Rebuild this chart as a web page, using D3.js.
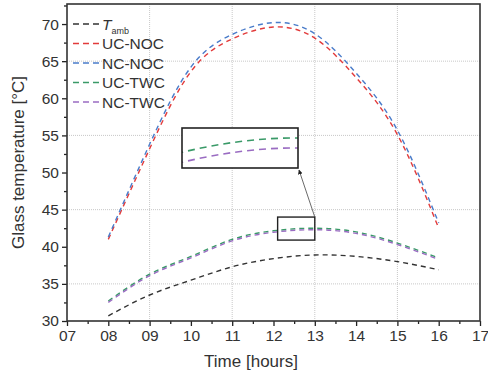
<!DOCTYPE html>
<html>
<head>
<meta charset="utf-8">
<script src="https://cdn.jsdelivr.net/npm/d3@7"></script>
<style>
  body { margin: 0; background: #fff; }
  text { font-family: "Liberation Sans", Arial, sans-serif; fill: #333; }
</style>
</head>
<body>
<div id="chart"></div>
<script>
// data
const hours = [8, 9, 10, 11, 12, 13, 14, 15, 16];
const tAmb = [30.7, 33.5, 35.5, 37.3, 38.4, 38.9, 38.7, 38.0, 36.9];
const ucNoc = [41.0, 53.2, 63.6, 68.0, 69.6, 68.1, 62.8, 55.1, 42.5];
const ncNoc = [41.3, 53.8, 64.2, 68.6, 70.2, 68.7, 63.4, 55.7, 43.2];
const ucTwc = [32.7, 36.3, 38.7, 41.0, 42.15, 42.5, 42.0, 40.5, 38.5];
const ncTwc = [32.5, 36.1, 38.5, 40.8, 41.95, 42.3, 41.8, 40.3, 38.3];

const seriesNames = ['T_amb', 'UC-NOC', 'NC-NOC', 'UC-TWC', 'NC-TWC'];
const seriesColors = ['#333333', '#e23b3b', '#4a7cca', '#3a9a68', '#9a6cc2'];
const seriesValues = [tAmb, ucNoc, ncNoc, ucTwc, ncTwc];

const xTicks = [7, 8, 9, 10, 11, 12, 13, 14, 15, 16, 17];
const yTicks = [30, 35, 40, 45, 50, 55, 60, 65, 70];
const xGrid = [9, 11, 13, 15];
const yGrid = [35, 45, 55, 65];

// zoom window (small box) and the y range shown in the big box
const zoomX = [12.1, 13.0];
const zoomY = [40.9, 44.0];
const insetY = [41.9, 42.7];

const width = 488, height = 374;
const margin = { top: 4, left: 67, right: 8, bottom: 53 };

const x = d3.scaleLinear().domain([7, 17]).range([margin.left, width - margin.right]);
const y = d3.scaleLinear().domain([30, 72.7]).range([height - margin.bottom, margin.top]);

const svg = d3.select('#chart')
    .append('svg')
    .attr('width', width)
    .attr('height', height);

// grid
svg.append('g')
    .selectAll('line')
    .data(xGrid)
    .enter()
    .append('line')
    .attr('x1', d => x(d)).attr('x2', d => x(d))
    .attr('y1', y.range()[1]).attr('y2', y.range()[0])
    .attr('stroke', '#c8c8c8')
    .attr('stroke-dasharray', '1,1');

svg.append('g')
    .selectAll('line')
    .data(yGrid)
    .enter()
    .append('line')
    .attr('x1', x.range()[0]).attr('x2', x.range()[1])
    .attr('y1', d => y(d)).attr('y2', d => y(d))
    .attr('stroke', '#c8c8c8')
    .attr('stroke-dasharray', '1,1');

// axes
let xAxis = d3.axisBottom(x)
    .tickValues(xTicks)
    .tickSize(5)
    .tickPadding(4)
    .tickFormat(d => d3.format('02d')(d));

let xMinor = d3.axisBottom(x)
    .tickValues(d3.range(7.5, 17, 1))
    .tickSize(3)
    .tickFormat('');

let yAxis = d3.axisLeft(y)
    .tickValues(yTicks)
    .tickSize(5)
    .tickPadding(3);

let yMinor = d3.axisLeft(y)
    .tickValues(d3.range(32.5, 72.6, 5))
    .tickSize(3)
    .tickFormat('');

function styleAxis(g) {
    g.select('.domain').remove();
    g.selectAll('line').attr('stroke', '#222').attr('stroke-width', 1.3);
    g.selectAll('text')
        .style('font-size', '15.5px')
        .attr('fill', '#333');
}

svg.append('g')
    .attr('transform', `translate(0, ${y.range()[0]})`)
    .call(xAxis)
    .call(styleAxis);

svg.append('g')
    .attr('transform', `translate(0, ${y.range()[0]})`)
    .call(xMinor)
    .call(styleAxis);

svg.append('g')
    .attr('transform', `translate(${x.range()[0]}, 0)`)
    .call(yAxis)
    .call(styleAxis);

svg.append('g')
    .attr('transform', `translate(${x.range()[0]}, 0)`)
    .call(yMinor)
    .call(styleAxis);

// frame
svg.append('rect')
    .attr('x', x.range()[0])
    .attr('y', y.range()[1])
    .attr('width', x.range()[1] - x.range()[0])
    .attr('height', y.range()[0] - y.range()[1])
    .attr('fill', 'none')
    .attr('stroke', '#333')
    .attr('stroke-width', 1.6);

// axis titles
svg.append('text')
    .text('Time [hours]')
    .attr('x', 251)
    .attr('y', 367)
    .attr('text-anchor', 'middle')
    .style('font-size', '17px');

svg.append('text')
    .text('Glass temperature [°C]')
    .attr('transform', `translate(24, ${(y.range()[0] + y.range()[1]) / 2}) rotate(-90)`)
    .attr('text-anchor', 'middle')
    .style('font-size', '17px');

// curves (natural spline, same shape in the inset)
let curve = d3.curveNatural;

let line = d3.line()
    .x((d, i) => x(hours[i]))
    .y(d => y(d))
    .curve(curve);

svg.append('g')
    .selectAll('path')
    .data([ucTwc, ncTwc, tAmb, ucNoc, ncNoc])
    .enter()
    .append('path')
    .attr('d', d => line(d))
    .attr('fill', 'none')
    .attr('stroke', d => seriesColors[seriesValues.indexOf(d)])
    .attr('stroke-width', 1.4)
    .attr('stroke-dasharray', '5,4');

// small box around the zoomed part
svg.append('rect')
    .attr('x', x(zoomX[0]))
    .attr('y', y(zoomY[1]))
    .attr('width', x(zoomX[1]) - x(zoomX[0]))
    .attr('height', y(zoomY[0]) - y(zoomY[1]))
    .attr('fill', 'none')
    .attr('stroke', '#222')
    .attr('stroke-width', 1.4);

// inset
const inset = { x0: 182, x1: 298, y0: 128, y1: 168 };
let ix = d3.scaleLinear().domain(zoomX).range([inset.x0, inset.x1]);
let iy = d3.scaleLinear().domain(insetY).range([inset.y1, inset.y0]);

svg.append('defs')
    .append('clipPath')
    .attr('id', 'insetClip')
    .append('rect')
    .attr('x', inset.x0)
    .attr('y', inset.y0)
    .attr('width', inset.x1 - inset.x0)
    .attr('height', inset.y1 - inset.y0);

svg.append('rect')
    .attr('x', inset.x0)
    .attr('y', inset.y0)
    .attr('width', inset.x1 - inset.x0)
    .attr('height', inset.y1 - inset.y0)
    .attr('fill', '#fff');

let insetLine = d3.line()
    .x((d, i) => ix(hours[i]))
    .y(d => iy(d))
    .curve(curve);

svg.append('g')
    .attr('clip-path', 'url(#insetClip)')
    .selectAll('path')
    .data([ucTwc, ncTwc])
    .enter()
    .append('path')
    .attr('d', d => insetLine(d))
    .attr('fill', 'none')
    .attr('stroke', d => seriesColors[seriesValues.indexOf(d)])
    .attr('stroke-width', 1.6)
    .attr('stroke-dasharray', '7,5');

svg.append('rect')
    .attr('x', inset.x0)
    .attr('y', inset.y0)
    .attr('width', inset.x1 - inset.x0)
    .attr('height', inset.y1 - inset.y0)
    .attr('fill', 'none')
    .attr('stroke', '#222')
    .attr('stroke-width', 1.6);

// arrow from small box to inset
svg.append('defs')
    .append('marker')
    .attr('id', 'arrowHead')
    .attr('viewBox', '0 0 10 10')
    .attr('refX', 9).attr('refY', 5)
    .attr('markerWidth', 6).attr('markerHeight', 6)
    .attr('orient', 'auto')
    .append('path')
    .attr('d', 'M0,0 L10,5 L0,10 z')
    .attr('fill', '#222');

svg.append('line')
    .attr('x1', x(zoomX[1]))
    .attr('y1', y(zoomY[1]))
    .attr('x2', inset.x1 + 1)
    .attr('y2', inset.y1 + 2)
    .attr('stroke', '#444')
    .attr('stroke-width', 0.8)
    .attr('marker-end', 'url(#arrowHead)');

// legend
let legend = svg.append('g')
    .attr('transform', 'translate(73, 24)');

let rows = legend.selectAll('g')
    .data(seriesNames)
    .enter()
    .append('g')
    .attr('transform', (d, i) => `translate(0, ${i * 19.5})`);

rows.append('line')
    .attr('x1', 0).attr('x2', 28)
    .attr('stroke', (d, i) => seriesColors[i])
    .attr('stroke-width', 1.4)
    .attr('stroke-dasharray', '6,4');

rows.each(function (d) {
    let t = d3.select(this).append('text')
        .attr('x', 29)
        .attr('y', 5.5)
        .style('font-size', '15.5px');
    if (d === 'T_amb') {
        t.append('tspan').text('T').style('font-style', 'italic');
        t.append('tspan').text('amb').attr('dy', 4).style('font-size', '9px');
    } else {
        t.text(d);
    }
});
</script>
</body>
</html>
